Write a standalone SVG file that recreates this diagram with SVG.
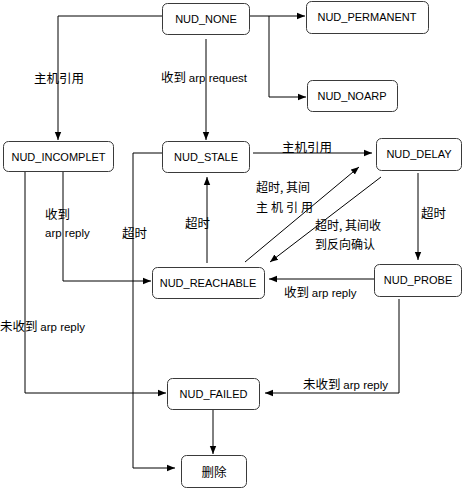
<svg xmlns="http://www.w3.org/2000/svg" width="464" height="489" viewBox="0 0 464 489">
<style>
.box{fill:#fff;stroke:#3a3a3a;stroke-width:1}
.t{font-family:"Liberation Sans","Noto Sans CJK SC",sans-serif;font-size:11px;fill:#000;text-anchor:middle;dominant-baseline:central}
.l{font-family:"Noto Sans CJK SC","Liberation Sans",sans-serif;font-size:12.5px;fill:#000}
.s{font-family:"Liberation Sans","Noto Sans CJK SC",sans-serif;font-size:11.5px}
.c{fill:none;stroke:#000;stroke-width:1}
</style>
<defs>
<marker id="a" viewBox="0 0 8 8" refX="8" refY="4" markerWidth="8" markerHeight="8" markerUnits="userSpaceOnUse" orient="auto">
<path d="M0,0.8 L8,4 L0,7.2 Z" fill="#000"/>
</marker>
</defs>
<rect width="464" height="489" fill="#fff"/>
<g id="connectors">
<path class="c" d="M162,16 H58 V140" marker-end="url(#a)"/>
<path class="c" d="M206,39 V140" marker-end="url(#a)"/>
<path class="c" d="M249,16 H305" marker-end="url(#a)"/>
<path class="c" d="M269,16 V97 H306" marker-end="url(#a)"/>
<path class="c" d="M253,153 H372" marker-end="url(#a)"/>
<path class="c" d="M162,153 H133 V468 H175" marker-end="url(#a)"/>
<path class="c" d="M25,171 V393 H166" marker-end="url(#a)"/>
<path class="c" d="M63,171 V281 H151" marker-end="url(#a)"/>
<path class="c" d="M207,263 V177" marker-end="url(#a)"/>
<path class="c" d="M245,262 L359,167" marker-end="url(#a)"/>
<path class="c" d="M381,177 L270,262" marker-end="url(#a)"/>
<path class="c" d="M418,173 V260" marker-end="url(#a)"/>
<path class="c" d="M374,279 H269" marker-end="url(#a)"/>
<path class="c" d="M399,299 V393 H265" marker-end="url(#a)"/>
<path class="c" d="M213,409 V454" marker-end="url(#a)"/>
</g>
<g id="labels">
<text class="l" x="34" y="83">主机引用</text>
<text class="l" x="161" y="82">收到 <tspan class="s">arp request</tspan></text>
<text class="l" x="282" y="152">主机引用</text>
<text class="l" x="45" y="219">收到</text>
<text class="l" x="45" y="237"><tspan class="s">arp reply</tspan></text>
<text class="l" x="122" y="238">超时</text>
<text class="l" x="185" y="228">超时</text>
<text class="l" x="256" y="192" style="font-size:12px">超时, 其间</text>
<text class="l" x="256" y="212" style="font-size:12px" letter-spacing="3">主机引用</text>
<text class="l" x="315" y="230" style="font-size:12px">超时, 其间收</text>
<text class="l" x="315" y="249" style="font-size:12px">到反向确认</text>
<text class="l" x="421" y="218">超时</text>
<text class="l" x="284" y="297">收到 <tspan class="s">arp reply</tspan></text>
<text class="l" x="0" y="331">未收到 <tspan class="s">arp reply</tspan></text>
<text class="l" x="303" y="389">未收到 <tspan class="s">arp reply</tspan></text>
</g>
<g id="NUD_NONE"><rect class="box" x="162.5" y="3.5" width="87" height="31" rx="5"/><text class="t" x="206" y="19">NUD_NONE</text></g>
<g id="NUD_PERMANENT"><rect class="box" x="306.5" y="1.5" width="122" height="32" rx="5"/><text class="t" x="367" y="17">NUD_PERMANENT</text></g>
<g id="NUD_NOARP"><rect class="box" x="307.5" y="80.5" width="90" height="31" rx="5"/><text class="t" x="352" y="96">NUD_NOARP</text></g>
<g id="NUD_INCOMPLET"><rect class="box" x="3.5" y="141.5" width="110" height="30" rx="5"/><text class="t" x="58.5" y="156.5">NUD_INCOMPLET</text></g>
<g id="NUD_STALE"><rect class="box" x="162.5" y="141.5" width="87" height="31" rx="5"/><text class="t" x="206" y="156.5">NUD_STALE</text></g>
<g id="NUD_DELAY"><rect class="box" x="376.5" y="138.5" width="85" height="32" rx="5"/><text class="t" x="419" y="154">NUD_DELAY</text></g>
<g id="NUD_REACHABLE"><rect class="box" x="152.5" y="267.5" width="112" height="31" rx="5"/><text class="t" x="208" y="282.5">NUD_REACHABLE</text></g>
<g id="NUD_PROBE"><rect class="box" x="374.5" y="264.5" width="87" height="32" rx="5"/><text class="t" x="418" y="280">NUD_PROBE</text></g>
<g id="NUD_FAILED"><rect class="box" x="167.5" y="378.5" width="92" height="31" rx="5"/><text class="t" x="213.5" y="394">NUD_FAILED</text></g>
<g id="delete"><rect class="box" x="181.5" y="455.5" width="65" height="32" rx="5"/><text class="t" x="214" y="471" style="font-family:'Noto Sans CJK SC',sans-serif;font-size:12.5px">删除</text></g>
</svg>
